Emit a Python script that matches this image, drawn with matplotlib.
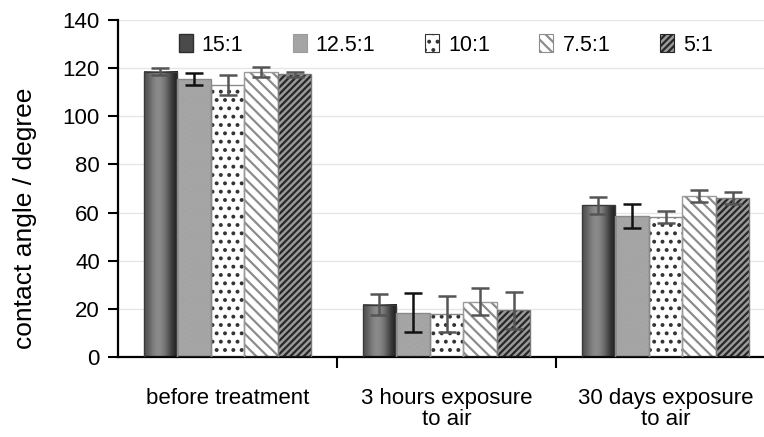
import matplotlib
import numpy as np
import matplotlib.pyplot as plt
from matplotlib.patches import Patch

matplotlib.use("Agg", force=True)

plt.rcParams["font.family"] = ["Liberation Sans", "DejaVu Sans"]
plt.rcParams["hatch.linewidth"] = 1.6

categories = ["before treatment", "3 hours exposure\nto air", "30 days exposure\nto air"]
series = ["15:1", "12.5:1", "10:1", "7.5:1", "5:1"]

val_15 = [118.5, 21.8, 63.0]
val_125 = [115.5, 18.4, 58.5]
val_10 = [113.0, 18.0, 58.0]
val_75 = [118.5, 23.0, 67.0]
val_5 = [117.5, 19.4, 66.0]

err_15 = [1.5, 4.2, 3.5]
err_125 = [2.5, 8.0, 5.0]
err_10 = [4.0, 7.5, 2.5]
err_75 = [2.0, 5.7, 2.5]
err_5 = [1.0, 7.7, 2.5]

values = [val_15, val_125, val_10, val_75, val_5]
errors = [err_15, err_125, err_10, err_75, err_5]

styles = [
    dict(facecolor="#5a5a5a", edgecolor="#3a3a3a", hatch=None, hcolor=None),
    dict(facecolor="#b0b0b0", edgecolor="#8a8a8a", hatch="......", hcolor="#9c9c9c"),
    dict(facecolor="white", edgecolor="#8a8a8a", hatch="..", hcolor="#333333"),
    dict(facecolor="white", edgecolor="#9a9a9a", hatch="\\\\\\", hcolor="#8c8c8c"),
    dict(facecolor="#9a9a9a", edgecolor="#7a7a7a", hatch="/////", hcolor="#262626"),
]
err_colors = ["#555555", "#111111", "#555555", "#555555", "#555555"]

fig = plt.figure(figsize=(7.64, 4.37), dpi=100)
ax = fig.add_axes([118 / 764, 80 / 437, 657 / 764, 337 / 437])

x = np.arange(len(categories))
group_w = 0.767
bar_w = group_w / len(series)

# shading for the 15:1 bars (dark edges, lighter middle)
grad = np.array([[0.32, 0.42, 0.52, 0.55, 0.5, 0.38, 0.24, 0.14]])

for i, (vals, errs) in enumerate(zip(values, errors)):
    st = styles[i]
    pos = x - group_w / 2 + bar_w * (i + 0.5)
    if st["hatch"]:
        ax.bar(pos, vals, bar_w, color=st["facecolor"], edgecolor=st["hcolor"],
               hatch=st["hatch"], linewidth=0, zorder=2)
        bars = ax.bar(pos, vals, bar_w, facecolor="none",
                      edgecolor=st["edgecolor"], linewidth=1.0, zorder=3)
    else:
        bars = ax.bar(pos, vals, bar_w, facecolor="none",
                      edgecolor=st["edgecolor"], linewidth=1.0, zorder=3)
        for b in bars:
            ax.imshow(grad, cmap="gray", vmin=0, vmax=1, aspect="auto",
                      extent=(b.get_x(), b.get_x() + b.get_width(), 0, b.get_height()),
                      interpolation="bicubic", zorder=2.5)
    ax.errorbar(pos, vals, yerr=errs, fmt="none", ecolor=err_colors[i],
                elinewidth=1.8, capsize=6.5, capthick=1.8, zorder=4)

leg_handles = []
for i, st in enumerate(styles):
    if st["hatch"]:
        leg_handles.append(Patch(facecolor=st["facecolor"], edgecolor=st["hcolor"],
                                 hatch=st["hatch"], linewidth=0.8))
    else:
        leg_handles.append(Patch(facecolor="#4a4a4a", edgecolor="#2e2e2e"))
ax.legend(leg_handles, series, loc="center", bbox_to_anchor=(0.4985, 0.926),
          ncol=5, frameon=False, fontsize=15.5, handlelength=0.65, handleheight=0.9,
          handletextpad=0.42, columnspacing=2.3, borderpad=0, borderaxespad=0)

ax.set_xlim(-0.5, 2.5)
ax.set_ylim(0, 140)
ax.set_yticks(np.arange(0, 141, 20))
ax.yaxis.grid(True, color="#e6e6e6", linewidth=1.0, zorder=0)
ax.set_axisbelow(True)

ax.set_xticks(x)
ax.set_xticklabels(categories, fontsize=16, linespacing=1.0)
ax.tick_params(axis="x", which="major", length=0, pad=22)
ax.set_xticks([0.5, 1.5], minor=True)
ax.tick_params(axis="x", which="minor", length=8, width=1.5, direction="out")
ax.tick_params(axis="y", length=7, width=1.5, direction="out", labelsize=16, pad=6)

ax.set_ylabel("contact angle / degree", fontsize=19)
ax.yaxis.set_label_coords(-0.124, 0.412)

for side in ["top", "right"]:
    ax.spines[side].set_visible(False)
for side in ["left", "bottom"]:
    ax.spines[side].set_linewidth(1.6)

fig.savefig("out.png", dpi=100)
